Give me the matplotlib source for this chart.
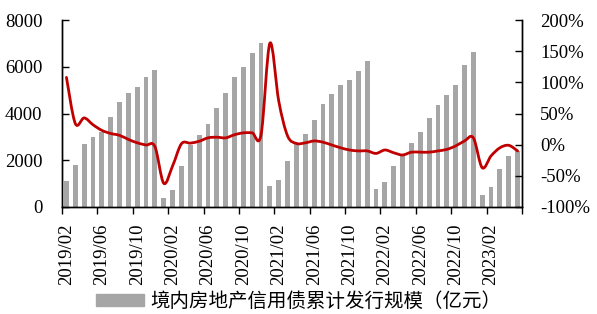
import matplotlib.pyplot as plt
import numpy as np
from matplotlib.path import Path
from matplotlib.patches import PathPatch, Patch

plt.rcParams['font.family'] = ['Liberation Serif', 'Noto Sans CJK SC', 'DejaVu Sans']

# monthly categories 2019/02 .. 2023/05
months = []
for y in range(2019, 2024):
    for m in range(1, 13):
        if (y == 2019 and m < 2) or (y == 2023 and m > 5):
            continue
        months.append(f'{y}/{m:02d}')

# cumulative issuance (100m yuan)
issuance = [1100, 1780, 2680, 3000, 3230, 3870, 4490, 4900, 5150, 5550, 5860,
            400, 720, 1770, 2660, 3090, 3570, 4240, 4890, 5570, 5980, 6590, 7010,
            890, 1150, 1980, 2730, 3130, 3710, 4390, 4840, 5240, 5440, 5840, 6250,
            760, 1075, 1770, 2220, 2760, 3230, 3820, 4360, 4800, 5210, 6080, 6630,
            500, 850, 1630, 2200, 2410]

# yoy growth (%)
yoy = [108, 34, 43, 32, 23, 18, 15, 8.5, 3, -0.5, -3,
       -62, -34, 1.5, 2.5, 5.5, 11, 12, 11, 16, 19, 19, 16,
       163, 70, 14, 2, 3, 6, 4, -0.5, -5, -8.5, -10, -10,
       -14, -8.5, -13, -16.5, -12, -12, -12, -10, -7.5, -2, 6, 11,
       -37, -18, -5, -1, -10]

legend_label = '境内房地产信用债累计发行规模（亿元）'


def smooth_path(xs, ys):
    # excel-like smoothed line: catmull-rom segments as cubic beziers
    pts = np.column_stack([xs, ys]).astype(float)
    n = len(pts)
    verts = [pts[0]]
    codes = [Path.MOVETO]
    for i in range(n - 1):
        p0 = pts[max(i - 1, 0)]
        p1 = pts[i]
        p2 = pts[i + 1]
        p3 = pts[min(i + 2, n - 1)]
        c1 = p1 + (p2 - p0) / 6
        c2 = p2 - (p3 - p1) / 6
        verts += [c1, c2, p2]
        codes += [Path.CURVE4] * 3
    return Path(verts, codes)


fig = plt.figure(figsize=(5.97, 3.14), dpi=100)
ax = fig.add_axes([0.1039, 0.3408, 0.7705, 0.5952])
x = np.arange(len(months))

ax.bar(x, issuance, width=0.55, color='#A6A6A6', zorder=2)
ax.set_xlim(-0.5, len(months) - 0.5)
ax.set_ylim(0, 8000)
ax.set_yticks(range(0, 8001, 2000))

# ticks between categories, labels on the category
ax.set_xticks(np.arange(-0.5, len(months), 4))
ax.set_xticklabels([])
ax.set_xticks(x[::4], minor=True)
ax.set_xticklabels(months[::4], minor=True, rotation=90, fontsize=13.5)
ax.tick_params(axis='x', which='major', direction='out', length=5, width=1)
ax.tick_params(axis='x', which='minor', length=0, pad=12)
ax.tick_params(axis='y', direction='in', length=5, width=1, labelsize=13.5, pad=14)

ax2 = ax.twinx()
ax2.set_ylim(-100, 200)
ax2.set_yticks(range(-100, 201, 50))
ax2.set_yticklabels([f'{v}%' for v in range(-100, 201, 50)])
ax2.tick_params(axis='y', direction='in', length=5, width=1, labelsize=13.5, pad=13)
ax2.add_patch(PathPatch(smooth_path(x, yoy), facecolor='none', edgecolor='#C00000',
                        lw=2, capstyle='round', joinstyle='round', zorder=3))

for a in (ax, ax2):
    a.spines['top'].set_visible(False)
    for s in ('left', 'right', 'bottom'):
        a.spines[s].set_color('black')
        a.spines[s].set_linewidth(1)

fig.legend(handles=[Patch(color='#A6A6A6', label=legend_label)],
           loc='center', bbox_to_anchor=(0.5, 0.04), frameon=False,
           prop={'family': ['Noto Sans CJK SC'], 'size': 14},
           handlelength=2.5, handleheight=0.6, handletextpad=0.3)

fig.savefig('out.png', dpi=100)
